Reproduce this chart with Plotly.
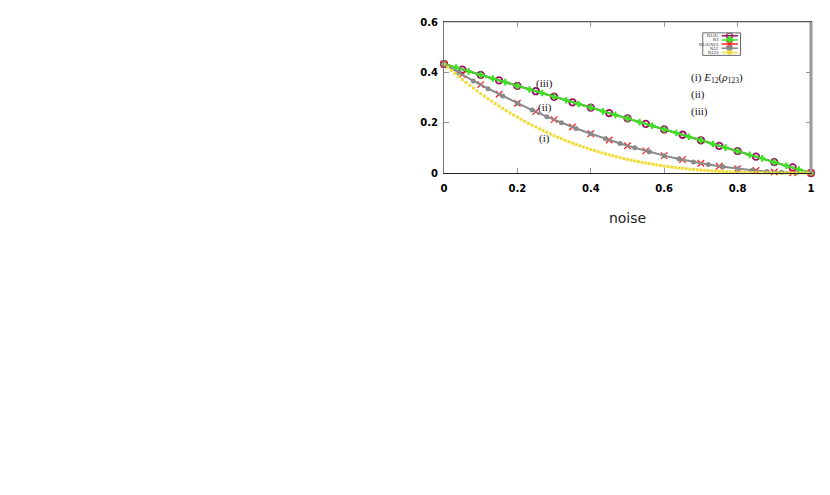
import plotly.graph_objects as go

# ---------------- data ----------------
x_n1a = [0.00, 0.05, 0.10, 0.15, 0.20, 0.25, 0.30, 0.35, 0.40, 0.45, 0.50,
         0.55, 0.60, 0.65, 0.70, 0.75, 0.80, 0.85, 0.90, 0.95, 1.00]
y_n1a = [0.433, 0.411, 0.390, 0.368, 0.346, 0.325, 0.303, 0.281, 0.260, 0.238, 0.217,
         0.195, 0.173, 0.152, 0.130, 0.108, 0.087, 0.065, 0.043, 0.022, 0.0]

x_n3 = [0.000, 0.033, 0.067, 0.100, 0.133, 0.167, 0.200, 0.233, 0.267, 0.300,
        0.333, 0.367, 0.400, 0.433, 0.467, 0.500, 0.533, 0.567, 0.600, 0.633,
        0.667, 0.700, 0.733, 0.767, 0.800, 0.833, 0.867, 0.900, 0.933, 0.967, 1.000]
y_n3 = [0.433, 0.419, 0.404, 0.390, 0.375, 0.361, 0.346, 0.332, 0.318, 0.303,
        0.289, 0.274, 0.260, 0.245, 0.231, 0.217, 0.202, 0.188, 0.173, 0.159,
        0.144, 0.130, 0.115, 0.101, 0.087, 0.072, 0.058, 0.043, 0.029, 0.014, 0.0]

x_n1sep = [0.00, 0.05, 0.10, 0.15, 0.20, 0.25, 0.30, 0.35, 0.40, 0.45, 0.50,
           0.55, 0.60, 0.65, 0.70, 0.75, 0.80, 0.85, 0.90, 0.95, 1.00]
y_n1sep = [0.433, 0.391, 0.351, 0.313, 0.277, 0.244, 0.212, 0.183, 0.156, 0.131, 0.108,
           0.088, 0.069, 0.053, 0.039, 0.027, 0.017, 0.010, 0.004, 0.001, 0.0]

x_n12 = [0.00, 0.04, 0.08, 0.12, 0.16, 0.20, 0.24, 0.28, 0.32, 0.36, 0.40, 0.44, 0.48,
         0.52, 0.56, 0.60, 0.64, 0.68, 0.72, 0.76, 0.80, 0.84, 0.88, 0.92, 0.96, 1.00]
y_n12 = [0.433, 0.399, 0.366, 0.335, 0.306, 0.277, 0.250, 0.224, 0.200, 0.177, 0.156, 0.136, 0.117,
         0.100, 0.084, 0.069, 0.056, 0.044, 0.034, 0.025, 0.017, 0.011, 0.006, 0.003, 0.001, 0.0]

x_n123 = [0.00, 0.01, 0.02, 0.03, 0.04, 0.05, 0.06, 0.07, 0.08, 0.09,
          0.10, 0.11, 0.12, 0.13, 0.14, 0.15, 0.16, 0.17, 0.18, 0.19,
          0.20, 0.21, 0.22, 0.23, 0.24, 0.25, 0.26, 0.27, 0.28, 0.29,
          0.30, 0.31, 0.32, 0.33, 0.34, 0.35, 0.36, 0.37, 0.38, 0.39,
          0.40, 0.41, 0.42, 0.43, 0.44, 0.45, 0.46, 0.47, 0.48, 0.49,
          0.50, 0.51, 0.52, 0.53, 0.54, 0.55, 0.56, 0.57, 0.58, 0.59,
          0.60, 0.61, 0.62, 0.63, 0.64, 0.65, 0.66, 0.67, 0.68, 0.69,
          0.70, 0.71, 0.72, 0.73, 0.74, 0.75, 0.76, 0.77, 0.78, 0.79,
          0.80, 0.81, 0.82, 0.83, 0.84, 0.85, 0.86, 0.87, 0.88, 0.89,
          0.90, 0.91, 0.92, 0.93, 0.94, 0.95, 0.96, 0.97, 0.98, 0.99, 1.00]
y_n123 = [0.4330, 0.4201, 0.4075, 0.3952, 0.3831, 0.3712, 0.3596, 0.3483, 0.3372, 0.3263,
          0.3157, 0.3053, 0.2951, 0.2851, 0.2754, 0.2659, 0.2566, 0.2476, 0.2387, 0.2301,
          0.2217, 0.2135, 0.2055, 0.1977, 0.1901, 0.1827, 0.1755, 0.1684, 0.1616, 0.1550,
          0.1485, 0.1422, 0.1361, 0.1302, 0.1245, 0.1189, 0.1135, 0.1083, 0.1032, 0.0983,
          0.0935, 0.0889, 0.0845, 0.0802, 0.0760, 0.0720, 0.0682, 0.0645, 0.0609, 0.0574,
          0.0541, 0.0509, 0.0479, 0.0450, 0.0421, 0.0395, 0.0369, 0.0344, 0.0321, 0.0298,
          0.0277, 0.0257, 0.0238, 0.0219, 0.0202, 0.0186, 0.0170, 0.0156, 0.0142, 0.0129,
          0.0117, 0.0106, 0.0095, 0.0085, 0.0076, 0.0068, 0.0060, 0.0053, 0.0046, 0.0040,
          0.0035, 0.0030, 0.0025, 0.0021, 0.0018, 0.0015, 0.0012, 0.0010, 0.0007, 0.0006,
          0.0004, 0.0003, 0.0002, 0.0001, 0.0001, 0.0001, 0.0, 0.0, 0.0, 0.0, 0.0]

series_names = ["N1(A)", "N3", "N1(A)N23", "N12", "N123"]
x_ticks = [0, 0.2, 0.4, 0.6, 0.8, 1]
x_tick_labels = ["0", "0.2", "0.4", "0.6", "0.8", "1"]
y_ticks = [0, 0.2, 0.4, 0.6]
y_tick_labels = ["0", "0.2", "0.4", "0.6"]

# ---------------- styles ----------------
C_PURPLE = "#99105f"
C_GREEN = "#3de024"
C_RED = "#ff2020"
C_GREY = "#8a8a8a"
C_YELLOW = "#f0dc3a"

fig = go.Figure()

fig.add_trace(go.Scatter(x=x_n1a, y=y_n1a, mode="lines+markers", name=series_names[0],
                         line=dict(color=C_PURPLE, width=2),
                         marker=dict(symbol="circle-open", size=6.5, color=C_PURPLE, line=dict(width=1.8)),
                         cliponaxis=False, showlegend=False))
fig.add_trace(go.Scatter(x=x_n3, y=y_n3, mode="lines+markers", name=series_names[1],
                         line=dict(color=C_GREEN, width=2),
                         marker=dict(symbol="cross", size=5.5, color=C_GREEN),
                         cliponaxis=False, showlegend=False))
fig.add_trace(go.Scatter(x=x_n1sep, y=y_n1sep, mode="markers", name=series_names[2],
                         marker=dict(symbol="x-thin-open", size=6.5, color=C_RED, line=dict(width=1.3, color=C_RED)),
                         cliponaxis=False, showlegend=False))
fig.add_trace(go.Scatter(x=x_n12, y=y_n12, mode="lines+markers", name=series_names[3],
                         line=dict(color=C_GREY, width=2),
                         marker=dict(symbol="circle", size=5, color=C_GREY),
                         cliponaxis=False, showlegend=False))
fig.add_trace(go.Scatter(x=x_n123, y=y_n123, mode="markers", name=series_names[4],
                         marker=dict(symbol="square", size=3, color=C_YELLOW),
                         cliponaxis=False, showlegend=False))

# ---------------- hand-made mini legend (overlay axes) ----------------
leg_colors = [C_PURPLE, C_GREEN, C_RED, C_GREY, C_YELLOW]
leg_symbols = ["circle-open", "cross", "x-thin-open", "circle", "square"]
leg_sizes = [6, 5, 6, 5, 3]
leg_rows = [0.87, 0.685, 0.5, 0.315, 0.13]
for name, col, sym, sz, ry in zip(series_names, leg_colors, leg_symbols, leg_sizes, leg_rows):
    fig.add_trace(go.Scatter(x=[0.5, 0.93], y=[ry, ry], mode="lines", xaxis="x2", yaxis="y2",
                             line=dict(color=col, width=1.5), showlegend=False, hoverinfo="skip"))
    fig.add_trace(go.Scatter(x=[0.71], y=[ry], mode="markers", xaxis="x2", yaxis="y2",
                             marker=dict(symbol=sym, size=sz, color=col, line=dict(width=1.2, color=col)),
                             showlegend=False, hoverinfo="skip"))
    fig.add_annotation(x=0.47, y=ry, xref="x2", yref="y2", text=name, showarrow=False,
                       xanchor="right", yanchor="middle",
                       font=dict(family="DejaVu Sans", size=4, color="#444"))

# ---------------- annotations ----------------
ann_font = dict(family="Liberation Serif", size=11, color="#111")
for txt, ax, ay in [("(iii)", 0.275, 0.355), ("(ii)", 0.275, 0.262), ("(i)", 0.275, 0.138)]:
    fig.add_annotation(x=ax, y=ay, text=txt, showarrow=False, font=ann_font,
                       xanchor="center", yanchor="middle")
for txt, ax, ay in [("(i) <i>E</i><sub>12</sub>(<i>ρ</i><sub>123</sub>)", 0.668, 0.378),
                    ("(ii)", 0.668, 0.311), ("(iii)", 0.668, 0.243)]:
    fig.add_annotation(x=ax, y=ay, text=txt, showarrow=False, font=ann_font,
                       xanchor="left", yanchor="middle")

fig.update_layout(
    width=830, height=495, autosize=False,
    margin=dict(l=436, r=27, t=8, b=330, pad=0),
    paper_bgcolor="white", plot_bgcolor="white",
    xaxis=dict(range=[0, 1], tickvals=x_ticks, ticktext=x_tick_labels,
               showgrid=False, zeroline=False, showline=True, linecolor="#222", linewidth=1,
               mirror="ticks", ticks="inside", ticklen=5, tickcolor="#999", tickwidth=1,
               tickfont=dict(family="DejaVu Sans", size=10, color="#000", weight="bold"),
               ticklabelstandoff=6,
               title=dict(text="noise", font=dict(family="DejaVu Sans", size=14, color="#222"),
                          standoff=20)),
    yaxis=dict(range=[0, 0.6], tickvals=y_ticks, ticktext=y_tick_labels,
               showgrid=False, zeroline=False, showline=True, linecolor="#777", linewidth=1,
               mirror="ticks", ticks="inside", ticklen=5, tickcolor="#999", tickwidth=1,
               tickfont=dict(family="DejaVu Sans", size=10, color="#000", weight="bold"),
               ticklabelstandoff=3),
    xaxis2=dict(domain=[0.705, 0.808], range=[0, 1], visible=False, anchor="y2", fixedrange=True),
    yaxis2=dict(domain=[0.779, 0.928], range=[0, 1], visible=False, anchor="x2", fixedrange=True),
    shapes=[
        dict(type="rect", xref="paper", yref="paper", x0=0.705, x1=0.808, y0=0.779, y1=0.928,
             line=dict(color="#666", width=1), fillcolor="rgba(255,255,255,0)", layer="above"),
        dict(type="line", xref="paper", yref="paper", x0=0, x1=1, y0=1, y1=1,
             line=dict(color="#999", width=1), layer="above"),
        dict(type="line", xref="paper", yref="paper", x0=1, x1=1, y0=0, y1=1,
             line=dict(color="#999", width=3), layer="above"),
    ],
)

fig.write_html("out.html")
